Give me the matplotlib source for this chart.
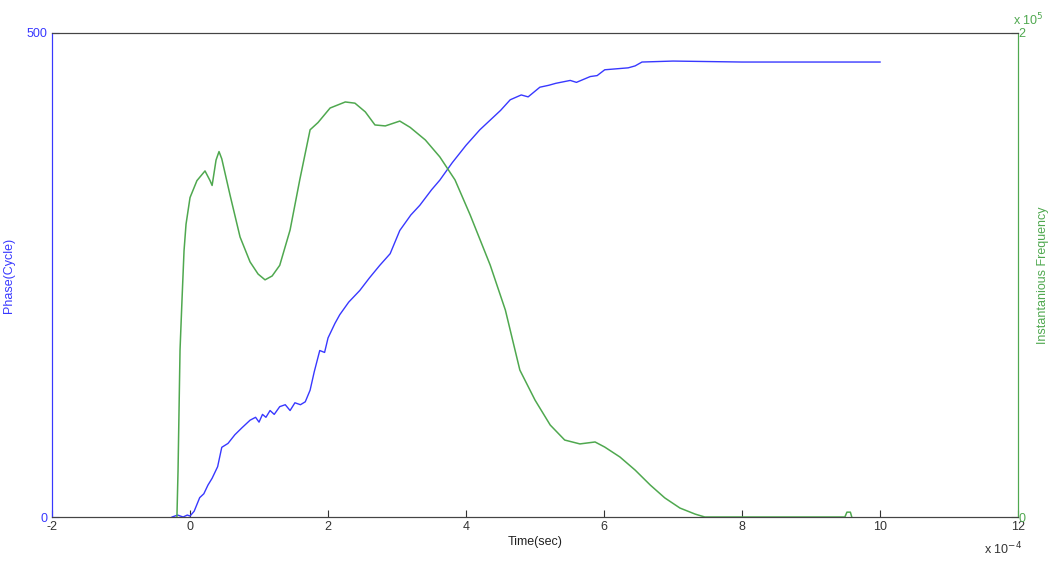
import matplotlib.pyplot as plt

plt.rcParams['font.family'] = ['Liberation Sans', 'DejaVu Sans']
plt.rcParams['axes.unicode_minus'] = False

# time in units of 1e-4 s
t_phase = [-0.26, -0.18, -0.1, -0.04, 0.0, 0.06, 0.14, 0.2, 0.26, 0.32, 0.4, 0.46, 0.55, 0.65,
           0.75, 0.87, 0.95, 1.0, 1.05, 1.1, 1.16, 1.22, 1.3, 1.38, 1.45, 1.52, 1.6, 1.67,
           1.74, 1.8, 1.88, 1.95, 2.0, 2.1, 2.17, 2.3, 2.46, 2.6, 2.75, 2.9, 3.04, 3.2,
           3.33, 3.5, 3.62, 3.8, 4.0, 4.2, 4.35, 4.5, 4.64, 4.8, 4.9, 5.07, 5.2, 5.3, 5.51,
           5.6, 5.8, 5.9, 6.01, 6.35, 6.45, 6.55, 7.0, 8.0, 10.0]
phase = [0, 2, 0, 2, 1, 6, 20, 24, 33, 40, 52, 72, 76, 85,
         92, 100, 103, 98, 106, 103, 110, 106, 114, 116, 110, 118, 116, 119,
         131, 150, 172, 170, 185, 200, 209, 222, 234, 247, 260, 272, 296, 312,
         322, 338, 348, 366, 384, 400, 410, 420, 431, 436, 434, 444, 446, 448, 451,
         449, 455, 456, 462, 464, 466, 470, 471, 470, 470]

# frequency in units of 1e5
t_freq = [-0.19, -0.174, -0.145, -0.116, -0.087, -0.058, 0.0, 0.10, 0.217, 0.29, 0.32,
          0.377, 0.42, 0.46, 0.58, 0.725, 0.87, 0.986, 1.087, 1.19, 1.30, 1.45, 1.59,
          1.74, 1.855, 2.03, 2.25, 2.39, 2.54, 2.68, 2.83, 3.04, 3.19, 3.41, 3.62,
          3.84, 4.06, 4.35, 4.57, 4.78, 5.0, 5.22, 5.43, 5.65, 5.87, 6.01, 6.23,
          6.45, 6.67, 6.88, 7.1, 7.32, 7.46, 9.49, 9.52, 9.57, 9.59]
freq = [0, 0.19, 0.69, 0.90, 1.10, 1.21, 1.32, 1.39, 1.43, 1.39, 1.37,
        1.475, 1.51, 1.48, 1.33, 1.157, 1.054, 1.004, 0.98, 0.996, 1.04, 1.186, 1.393,
        1.60, 1.63, 1.69, 1.715, 1.71, 1.674, 1.62, 1.616, 1.636, 1.61, 1.558, 1.488,
        1.393, 1.248, 1.041, 0.855, 0.607, 0.483, 0.38, 0.318, 0.302, 0.31, 0.289, 0.248,
        0.194, 0.132, 0.079, 0.037, 0.012, 0, 0, 0.02, 0.02, 0]

blue = '#3838ff'
green = '#4fa84f'

fig = plt.figure(figsize=(10.49, 5.63), dpi=100)
ax = fig.add_axes([0.0496, 0.0817, 0.9209, 0.8597])
ax2 = ax.twinx()

ax.plot(t_phase, phase, color=blue, lw=1.0)
ax2.plot(t_freq, freq, color=green, lw=1.1)

ax.set_xlim(-2, 12)
ax.set_ylim(0, 500)
ax2.set_ylim(0, 2)
ax.set_xticks(range(-2, 13, 2))
ax.set_yticks([0, 500])
ax2.set_yticks([0, 2])

ax.tick_params(axis='x', direction='in', length=5, labelsize=9, colors='#333333', pad=3)
ax.tick_params(axis='y', direction='in', length=5, labelsize=9, colors=blue, pad=3)
ax2.tick_params(axis='y', direction='in', length=5, labelsize=9, colors=green, pad=0)

for a in (ax, ax2):
    a.spines['top'].set_color('#444444')
    a.spines['bottom'].set_color('#444444')
    a.spines['left'].set_color(blue)
    a.spines['right'].set_color(green)

ax.set_xlabel('Time(sec)', fontsize=9, color='#222222', labelpad=2)
ax.set_ylabel('Phase(Cycle)', fontsize=9, color=blue)
ax.yaxis.set_label_coords(-0.038, 0.5)
ax2.set_ylabel('Instantanious Frequency', fontsize=9, color=green)
ax2.yaxis.set_label_coords(1.02, 0.5)

fig.text(0.938, 0.015, r'x 10$^{-4}$', fontsize=9, color='#333333')
fig.text(0.966, 0.955, r'x 10$^{5}$', fontsize=9, color=green)

fig.savefig('out.png', dpi=100)
